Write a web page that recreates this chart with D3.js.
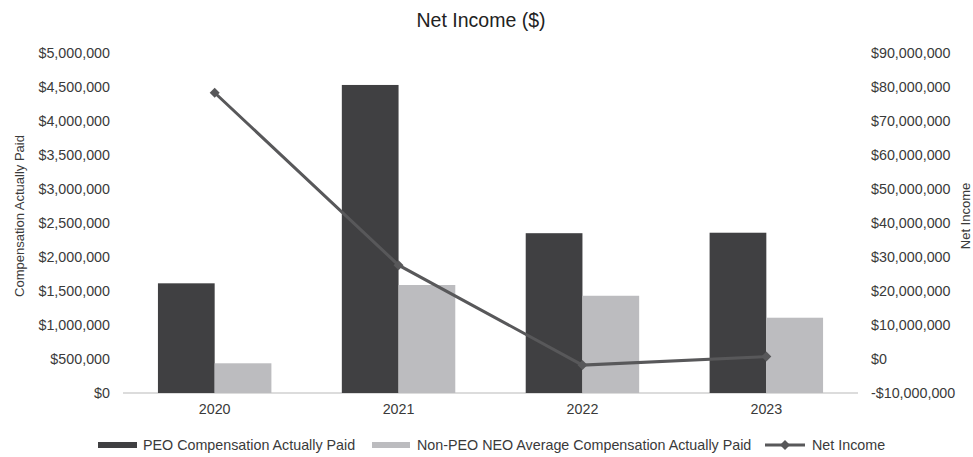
<!DOCTYPE html>
<html>
<head>
<meta charset="utf-8">
<script src="https://cdn.jsdelivr.net/npm/d3@7"></script>
<style>
  body { margin: 0; background: #fff; }
  text { font-family: "Liberation Sans", Arial, sans-serif; fill: #3a3a3a; }
  .domain { display: none; }
</style>
</head>
<body>
<svg width="973" height="457"></svg>
<script>
const years = ['2020', '2021', '2022', '2023'];
const peoPaid = [1613000, 4530000, 2350000, 2357000];
const neoPaid = [437000, 1588000, 1430000, 1107000];
const netIncome = [78300000, 27600000, -1800000, 700000];
const leftTicks = d3.range(0, 5000001, 500000);
const rightTicks = d3.range(-10000000, 90000001, 10000000);

const svg = d3.select('svg');
const width = +svg.attr('width');
const height = +svg.attr('height');

const plotLeft = 123, plotRight = 858, plotTop = 53, plotBottom = 393;

const fmt = d3.format(',');
const money = v => (v < 0 ? '-$' : '$') + fmt(Math.abs(v));

const x = d3.scaleBand()
  .domain(years)
  .range([plotLeft, plotRight])
  .paddingInner(0.383)
  .paddingOuter(0.19);

const x1 = d3.scaleBand()
  .domain(['peo', 'neo'])
  .range([0, x.bandwidth()]);

const yLeft = d3.scaleLinear().domain([0, 5000000]).range([plotBottom, plotTop]);
const yRight = d3.scaleLinear().domain([-10000000, 90000000]).range([plotBottom, plotTop]);

// title
svg.append('text')
  .attr('x', 481)
  .attr('y', 27)
  .attr('text-anchor', 'middle')
  .style('font-size', '19.5px')
  .style('fill', '#222')
  .text('Net Income ($)');

// axes
const leftAxis = svg.append('g')
  .attr('transform', `translate(${plotLeft},0)`)
  .call(d3.axisLeft(yLeft).tickValues(leftTicks).tickSize(0).tickPadding(13).tickFormat(money));
const rightAxis = svg.append('g')
  .attr('transform', `translate(${plotRight},0)`)
  .call(d3.axisRight(yRight).tickValues(rightTicks).tickSize(0).tickPadding(13).tickFormat(money));
[leftAxis, rightAxis].forEach(g => g.selectAll('text')
  .style('font-size', '14.3px')
  .style('font-family', '"Liberation Sans", Arial, sans-serif')
  .attr('fill', '#3a3a3a'));

svg.append('line')
  .attr('x1', plotLeft).attr('x2', plotRight)
  .attr('y1', plotBottom).attr('y2', plotBottom)
  .attr('stroke', '#d0d0d0')
  .attr('stroke-width', 1.5);

const xAxis = svg.append('g')
  .attr('transform', `translate(0,${plotBottom})`)
  .call(d3.axisBottom(x).tickSize(0).tickPadding(11));
xAxis.selectAll('text')
  .style('font-size', '14.3px')
  .style('font-family', '"Liberation Sans", Arial, sans-serif')
  .attr('fill', '#3a3a3a');

svg.append('text')
  .attr('transform', `translate(24,216) rotate(-90)`)
  .attr('text-anchor', 'middle')
  .style('font-size', '13px')
  .text('Compensation Actually Paid');

svg.append('text')
  .attr('transform', `translate(970,216) rotate(-90)`)
  .attr('text-anchor', 'middle')
  .style('font-size', '13px')
  .text('Net Income');

// bars
const groups = svg.append('g').selectAll('g')
  .data(years)
  .enter()
  .append('g')
    .attr('transform', d => `translate(${x(d)},0)`);

groups.append('rect')
  .attr('x', x1('peo'))
  .attr('width', x1.bandwidth())
  .attr('y', (d, i) => yLeft(peoPaid[i]))
  .attr('height', (d, i) => plotBottom - yLeft(peoPaid[i]))
  .attr('fill', '#404042');

groups.append('rect')
  .attr('x', x1('neo'))
  .attr('width', x1.bandwidth())
  .attr('y', (d, i) => yLeft(neoPaid[i]))
  .attr('height', (d, i) => plotBottom - yLeft(neoPaid[i]))
  .attr('fill', '#bcbcbf');

// line
const pts = years.map((d, i) => [x(d) + x.bandwidth() / 2, yRight(netIncome[i])]);
svg.append('path')
  .attr('d', d3.line()(pts))
  .attr('fill', 'none')
  .attr('stroke', '#58585a')
  .attr('stroke-width', 3);

const diamond = d3.symbol().type(d3.symbolSquare).size(50);
svg.append('g').selectAll('path')
  .data(pts)
  .enter()
  .append('path')
    .attr('d', diamond)
    .attr('transform', d => `translate(${d[0]},${d[1]}) rotate(45)`)
    .attr('fill', '#58585a');

// legend
const legY = 445;
const leg = svg.append('g');
leg.append('rect').attr('x', 98).attr('y', legY - 3).attr('width', 39).attr('height', 6).attr('fill', '#404042');
leg.append('text').attr('x', 143).attr('y', legY + 5).style('font-size', '14.3px').text('PEO Compensation Actually Paid');
leg.append('rect').attr('x', 372).attr('y', legY - 3).attr('width', 38).attr('height', 6).attr('fill', '#bcbcbf');
leg.append('text').attr('x', 417).attr('y', legY + 5).style('font-size', '14.3px').text('Non-PEO NEO Average Compensation Actually Paid');
leg.append('line').attr('x1', 765).attr('x2', 805).attr('y1', legY).attr('y2', legY)
  .attr('stroke', '#58585a').attr('stroke-width', 3);
leg.append('path').attr('d', diamond).attr('transform', `translate(785,${legY}) rotate(45)`).attr('fill', '#58585a');
leg.append('text').attr('x', 812).attr('y', legY + 5).style('font-size', '14.3px').text('Net Income');
</script>
</body>
</html>
